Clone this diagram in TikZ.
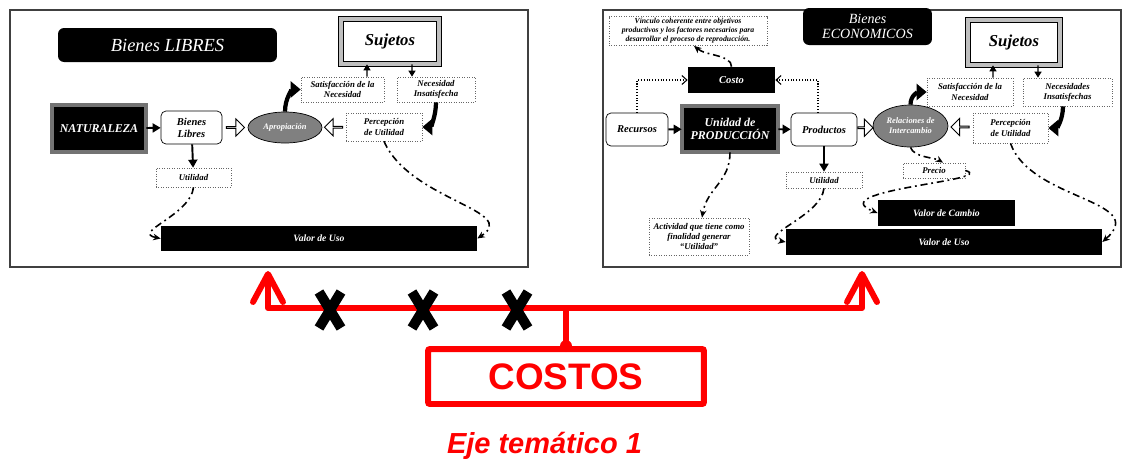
\documentclass[tikz,border=0pt]{standalone}
\usepackage{fontspec}
\setmainfont{Liberation Serif}
\newfontfamily\arialfont{Liberation Sans}
\usetikzlibrary{arrows.meta, % if the figure contains arrow-tips
                shapes,      % ellipse, single arrow, cross out
                calc,
                positioning
               }

\begin{document}
\begin{tikzpicture}[x=0.02cm, y=-0.02cm,
		wh/.style 2 args={minimum width=#1mm, minimum height=#2mm},
		panel/.style={draw=black!75, line width=0.7pt, inner sep=0},
		titlebox/.style={fill=black, text=white, rounded corners=1.2mm, inner sep=0, align=center},
		bevelbox/.style={fill=black, text=white, draw=black, double=black!55, double distance=2pt, inner sep=0, align=center,
			font=\fontsize{6.8}{7.6}\selectfont\bfseries\itshape},
		framebox/.style={fill=white, draw=black, double=black!25, double distance=2.6pt, inner sep=0,
			font=\fontsize{9.5}{10}\selectfont\bfseries\itshape},
		roundbox/.style={draw=black, fill=white, rounded corners=1mm, inner sep=0, align=center,
			font=\fontsize{6}{6.8}\selectfont\bfseries\itshape},
		notebox/.style={draw=black!60, densely dotted, fill=white, inner sep=0, align=center,
			font=\fontsize{5}{5.8}\selectfont\bfseries\itshape},
		blackbar/.style={fill=black, text=white, inner sep=0, font=\fontsize{5.5}{6}\selectfont\bfseries\itshape},
		grayell/.style={ellipse, draw=black, fill=black!50, text=white, inner sep=0, align=center,
			font=\fontsize{4.8}{5.6}\selectfont\bfseries\itshape},
		hollow/.style={single arrow, draw=black, fill=white, line width=0.5pt, minimum height=3.6mm,
			minimum width=3.4mm, single arrow head extend=0.8mm, inner sep=0},
		solidarrow/.style={draw, line width=1.1pt, -{Triangle[length=1.6mm, width=1.8mm]}},
		smallarrow/.style={draw, line width=0.8pt, -{Triangle[length=1.2mm, width=1.4mm]}},
		bendarrow/.style={draw, line width=2.4pt, -{Triangle[length=2mm, width=3.2mm]}},
		dashdot/.style={draw, line width=0.9pt, dash pattern=on 4pt off 2.2pt on 1pt off 2.2pt,
			-{Stealth[length=1.5mm, width=1.3mm]}},
		dots/.style={draw, line width=0.6pt, densely dotted, -{Straight Barb[length=1mm, width=1.8mm]}},
		redline/.style={draw=red, line width=3.4pt, line cap=round, line join=round},
		redarrow/.style={redline, -{Straight Barb[round, length=5.6mm, width=6mm]}},
		cross/.style={cross out, draw=black, line width=2mm, minimum width=4.4mm, minimum height=7.2mm,
			inner sep=0, outer sep=0}]
		\useasboundingbox (0,0) rectangle (1123,461);
		% Panels
		\node[panel, wh={103.6}{51.4}] (lpanel) at (269,138.5) {};
		\node[panel, wh={103.6}{51.4}] (rpanel) at (862,138.5) {};
		% Nodes (Bienes libres)
		\node[titlebox, wh={43.8}{6.8}, font=\fontsize{10.5}{11}\selectfont\itshape] (ttlL) at (167.5,45) {Bienes LIBRES};
		\node[bevelbox, wh={18.8}{9.4}] (nat) at (99,128.5) {NATURALEZA};
		\node[roundbox, wh={12.2}{6.6}] (bl) at (191.5,127.5) {Bienes\\Libres};
		\node[grayell, wh={14.8}{6.2}] (apL) at (285,127.5) {Apropiación};
		\node[notebox, wh={15}{3.8}] (utL) at (193.5,177.5) {Utilidad};
		\node[blackbar, wh={63.2}{5}] (vuL) at (319,238.5) {Valor de Uso};
		\node[framebox, wh={19.6}{9}] (sjL) at (390,41.5) {Sujetos};
		\node[notebox, wh={16.6}{5}] (satL) at (342.5,89.5) {Satisfacción de la\\Necesidad};
		\node[notebox, wh={15.6}{5}] (necL) at (436,89.5) {Necesidad\\Insatisfecha};
		\node[notebox, wh={15.2}{5.6}] (perL) at (384,127) {Percepción\\de Utilidad};
		% Nodes (Bienes economicos)
		\node[notebox, wh={31.6}{5.8}, font=\fontsize{4.4}{5.1}\selectfont\bfseries\itshape] (vinc) at (688,31)
			{Vínculo coherente entre objetivos\\productivos y los factores necesarios para\\desarrollar el proceso de reproducción.};
		\node[blackbar, wh={17.4}{5.2}, font=\fontsize{6}{6.5}\selectfont\bfseries\itshape] (costo) at (731.5,80) {Costo};
		\node[roundbox, wh={12.4}{6.6}] (rec) at (637,129.5) {Recursos};
		\node[bevelbox, wh={19.2}{9.2}] (up) at (730,129) {Unidad de\\PRODUCCIÓN};
		\node[roundbox, wh={13.2}{6.6}] (prod) at (824,129.5) {Productos};
		\node[notebox, wh={15.2}{3.2}] (utR) at (824,180) {Utilidad};
		\node[notebox, wh={20}{7.4}] (act) at (699,236.5) {Actividad que tiene como\\finalidad generar\\“Utilidad”};
		\node[blackbar, wh={63.2}{5.2}] (vuR) at (944,242) {Valor de Uso};
		\node[blackbar, wh={27.4}{5.2}] (vc) at (946.5,213) {Valor de Cambio};
		\node[titlebox, wh={25.8}{7.4}, font=\fontsize{8}{9}\selectfont\itshape] (ttlR) at (867.5,26.5) {Bienes\\ECONOMICOS};
		\node[framebox, wh={18.4}{9}] (sjR) at (1014,42.5) {Sujetos};
		\node[notebox, wh={17.2}{5.6}] (satR) at (970,92) {Satisfacción de la\\Necesidad};
		\node[notebox, wh={17.8}{5.6}] (necR) at (1067.5,92) {Necesidades\\Insatisfechas};
		\node[grayell, wh={15}{8.4}] (relR) at (910.5,126) {Relaciones de\\Intercambio};
		\node[notebox, wh={15}{6}] (perR) at (1010.5,128) {Percepción\\de Utilidad};
		\node[notebox, wh={12.4}{3}] (precio) at (934,170.5) {Precio};
		% Hollow arrows
		\node[hollow] (h1) at ($(bl.east)!0.5!(apL.west)$) {};
		\node[hollow, shape border rotate=180] (h2) at ($(perL.west)!0.5!(apL.east)$) {};
		\node[hollow, minimum height=3mm] (h3) at ($(prod.east)!0.5!(relR.west)$) {};
		\node[hollow, shape border rotate=180] (h4) at ($(perR.west)!0.5!(relR.east)$) {};
		% Edges (Bienes libres)
		\draw[solidarrow] (nat) -- (bl);
		\draw[solidarrow] (bl) -- (utL);
		\draw[smallarrow] ([xshift=4.9mm]satL.north) -- ([xshift=-4.6mm]sjL.south);
		\draw[smallarrow] ([xshift=4.4mm]sjL.south) -- ([xshift=-4.8mm]necL.north);
		\draw[bendarrow] (apL.north) .. controls +(0,-14) and +(-8,0) .. (satL.west);
		\draw[bendarrow] (necL.south) .. controls +(0,14) and +(8,0) .. (perL.east);
		\draw[dashdot] (utL.south) .. controls +(-3,28) and +(-30,-6) .. (vuL.west);
		\draw[dashdot] (perL.south) .. controls +(26,59) and +(43,-28) .. (vuL.east);
		% Edges (Bienes economicos)
		\draw[solidarrow] (rec) -- (up);
		\draw[solidarrow] (up) -- (prod);
		\draw[solidarrow] (prod) -- (utR);
		\draw[dots] (rec.north) |- (costo.west);
		\draw[dots] ([xshift=-1.2mm]prod.north) |- (costo.east);
		\draw[dashdot] (costo.north) .. controls +(0,-12) and +(12,10) .. ([xshift=1.2mm]vinc.south);
		\draw[dashdot] (up.south) .. controls +(0,30) and +(5,-30) .. ([xshift=0.6mm]act.north);
		\draw[dashdot] (utR.south) .. controls +(-3,28) and +(-30,-6) .. (vuR.west);
		\draw[smallarrow] ([xshift=4.6mm]satR.north) -- ([xshift=-4.2mm]sjR.south);
		\draw[smallarrow] ([xshift=4.8mm]sjR.south) -- ([xshift=-5.9mm]necR.north);
		\draw[bendarrow] (relR.north) .. controls +(0,-10) and +(-8,0) .. (satR.west);
		\draw[bendarrow] ([xshift=-0.9mm]necR.south) .. controls +(0,14) and +(8,0) .. (perR.east);
		\draw[dashdot] (relR.south) .. controls +(3,10) and +(-8,-5) .. ([xshift=1.8mm]precio.north);
		\draw[dashdot] (precio.east) .. controls +(35,10) and +(-58,-23) .. (vc.west);
		\draw[dashdot] (perR.south) .. controls +(20,57) and +(48,-42) .. (vuR.east);
		% Costos
		\node[draw=red, line width=3.4pt, rounded corners=0.4mm, wh={55.2}{11}, inner sep=0, text=red,
			font=\arialfont\bfseries\fontsize{21}{22}\selectfont] (costos) at (566,376.5) {COSTOS};
		\node[anchor=base, text=red, font=\arialfont\bfseries\itshape\fontsize{16.5}{18}\selectfont] (eje) at (544.5,453) {Eje temático 1};
		\coordinate (jn) at (566,308);
		\coordinate (tipL) at (268,271);
		\coordinate (tipR) at (862,271);
		\draw[redline] (costos.north) -- (jn);
		\draw[redarrow] (jn) -| (tipL);
		\draw[redarrow] (jn) -| (tipR);
		\node[circle, fill=red, minimum size=2.4mm, inner sep=0] (dot) at (costos.north) {};
		\foreach \i/\x in {1/330, 2/423, 3/517}
			\node[cross] (x\i) at (\x,310) {};
	\end{tikzpicture}
\end{document}
